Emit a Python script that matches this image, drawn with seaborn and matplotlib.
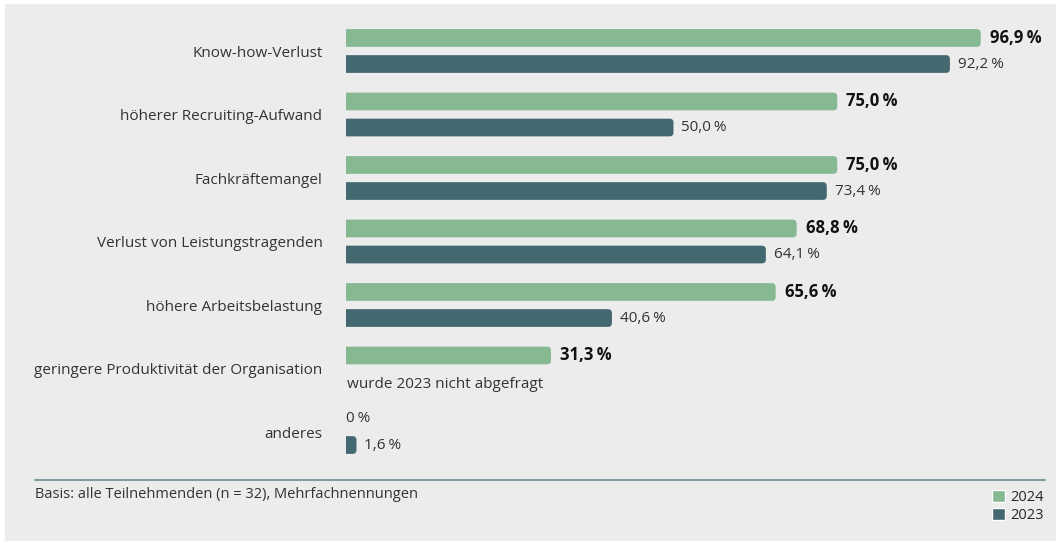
import numpy as np
import pandas as pd
import matplotlib
matplotlib.use("Agg")
import matplotlib.pyplot as plt
import seaborn as sns
from matplotlib.patches import Patch, FancyBboxPatch
from matplotlib.lines import Line2D

categories = [
    "Know-how-Verlust",
    "höherer Recruiting-Aufwand",
    "Fachkräftemangel",
    "Verlust von Leistungstragenden",
    "höhere Arbeitsbelastung",
    "geringere Produktivität der Organisation",
    "anderes",
]
values_2024 = [96.9, 75.0, 75.0, 68.8, 65.6, 31.3, 0.0]
values_2023 = [92.2, 50.0, 73.4, 64.1, 40.6, np.nan, 1.6]
years = ["2024", "2023"]
palette = {"2024": "#86b892", "2023": "#436870"}
BG = "#ececec"

df = pd.DataFrame({
    "Kategorie": categories * 2,
    "Jahr": ["2024"] * len(categories) + ["2023"] * len(categories),
    "Wert": values_2024 + values_2023,
})

sns.set_theme(style="white")
plt.rcParams["font.family"] = ["Open Sans", "DejaVu Sans"]

fig = plt.figure(figsize=(10.56, 5.41), dpi=100, facecolor="white")
# grey panel
fig.patches.append(plt.Rectangle((5 / 1056, 0), 1 - 5 / 1056, 1 - 4 / 541,
                                 transform=fig.transFigure, color=BG, zorder=-10))

ax = fig.add_axes([346 / 1056, 1 - 463.75 / 541, 655 / 1056, (463.75 - 19.25) / 541])
ax.set_facecolor("none")

sns.barplot(data=df, y="Kategorie", x="Wert", hue="Jahr", hue_order=years,
            palette=palette, orient="h", width=0.82, gap=0.32, ax=ax,
            legend=False, saturation=1, linewidth=0)

ax.set_xlim(0, 100)
ax.set_ylim(len(categories) - 0.5, -0.5)
ax.set_xlabel("")
ax.set_ylabel("")
ax.set_xticks([])
sns.despine(ax=ax, left=True, bottom=True)
ax.tick_params(axis="y", length=0, pad=17, labelsize=11, labelcolor="#333333")

# rounded right ends (left end hidden outside the axes)
r = 0.6
asp = (655 / 100) / 63.5
for p in list(ax.patches):
    w = p.get_width()
    if not np.isfinite(w) or w <= 0:
        p.remove()
        continue
    x, y, h = p.get_x(), p.get_y(), p.get_height()
    fb = FancyBboxPatch((x - r, y), w + r, h,
                        boxstyle=f"round,pad=0,rounding_size={r}",
                        mutation_aspect=asp, facecolor=p.get_facecolor(),
                        linewidth=0)
    p.remove()
    ax.add_patch(fb)

def fmt(v):
    s = f"{v:.1f}".replace(".", ",")
    if v == 0:
        s = "0"
    return s + "\u202f%"

off = 0.82 / 4
for i, cat in enumerate(categories):
    v24 = values_2024[i]
    v23 = values_2023[i]
    if v24 > 0:
        ax.text(v24 + 1.4, i - off, fmt(v24), va="center", ha="left",
                fontsize=12, fontweight="bold", color="#111111")
    else:
        ax.text(0, i - off, fmt(v24), va="center", ha="left",
                fontsize=11, color="#333333")
    if np.isnan(v23):
        ax.text(0.2, i + off + 0.05, "wurde 2023 nicht abgefragt", va="center", ha="left",
                fontsize=11, color="#333333")
    else:
        ax.text(v23 + 1.2, i + off, fmt(v23), va="center", ha="left",
                fontsize=11, color="#333333")

# separator line and footer
fig.add_artist(Line2D([35 / 1056, 1045 / 1056], [1 - 480 / 541, 1 - 480 / 541],
                      transform=fig.transFigure, color="#7f9ea4", linewidth=1.5))
fig.text(35 / 1056, 1 - 495 / 541, "Basis: alle Teilnehmenden (n = 32), Mehrfachnennungen",
         ha="left", va="center", fontsize=10.5, color="#333333")

handles = [Patch(facecolor=palette[y], label=y) for y in years]
fig.legend(handles=handles, loc="upper right", bbox_to_anchor=(1050 / 1056, 1 - 484 / 541),
           frameon=False, fontsize=10.5, handlelength=0.9, handleheight=0.9,
           handletextpad=0.4, labelspacing=0.2, borderaxespad=0)

fig.savefig("out.png", dpi=100, facecolor=fig.get_facecolor())
